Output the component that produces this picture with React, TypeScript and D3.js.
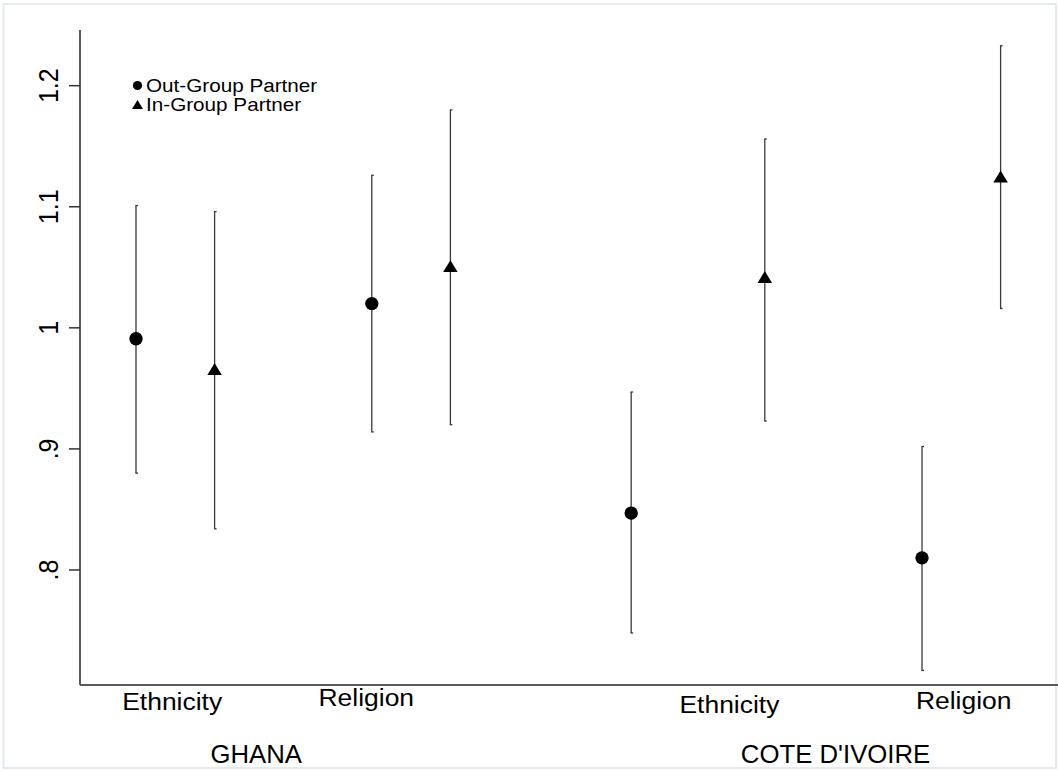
import React, { useRef, useEffect } from 'react';
import * as d3 from 'd3';

// groups along the x axis (data units)
const categories = ['Ethnicity', 'Religion', 'Ethnicity', 'Religion'];
const categoryLabelX = [1.46, 3.93, 8.55, 11.53];
const categoryLabelDy = [0, -4, 3, -1];
const countries = ['GHANA', "COTE D'IVOIRE"];
const countryLabelX = [2.53, 9.9];

// out-group partner
const outX = [1, 4, 7.3, 11];
const outEst = [0.991, 1.02, 0.847, 0.81];
const outLow = [0.88, 0.914, 0.748, 0.717];
const outHigh = [1.101, 1.126, 0.947, 0.902];

// in-group partner
const inX = [2, 5, 9, 12];
const inEst = [0.966, 1.051, 1.042, 1.125];
const inLow = [0.834, 0.92, 0.923, 1.016];
const inHigh = [1.096, 1.18, 1.156, 1.233];

const yTicks = [0.8, 0.9, 1, 1.1, 1.2];
const yTickLabels = ['.8', '.9', '1', '1.1', '1.2'];
const legendLabels = ['Out-Group Partner', 'In-Group Partner'];

const W = 1058;
const H = 771;
const FONT = 'Arial, "Liberation Sans", Helvetica, sans-serif';

const App: React.FC = () => {
    const svgRef = useRef<SVGSVGElement>(null);

    useEffect(() => {
        if (!svgRef.current) return;
        const svg = d3.select(svgRef.current);
        svg.selectAll('*').remove();

        const x = d3.scaleLinear().domain([0, 13]).range([57.4, 1079.2]);
        const y = d3.scaleLinear().domain([0.705, 1.246]).range([685, 30]);
        const axisLeft = 80;
        const axisBottom = 685;

        svg.append('rect')
            .attr('x', 0).attr('y', 0).attr('width', W).attr('height', H)
            .attr('fill', '#ffffff');

        // faint outer frame
        svg.append('rect')
            .attr('x', 3.5).attr('y', 4).attr('width', 1052.5).attr('height', 764)
            .attr('fill', 'none')
            .attr('stroke', '#e4ebef')
            .attr('stroke-width', 2);

        // y axis
        svg.append('line')
            .attr('x1', axisLeft).attr('x2', axisLeft)
            .attr('y1', y(1.246)).attr('y2', axisBottom)
            .attr('stroke', '#5a5a5a').attr('stroke-width', 2);

        // x axis
        svg.append('line')
            .attr('x1', axisLeft).attr('x2', W)
            .attr('y1', axisBottom).attr('y2', axisBottom)
            .attr('stroke', '#5a5a5a').attr('stroke-width', 2);

        // ticks + rotated labels
        const tg = svg.append('g');
        yTicks.forEach((t, i) => {
            tg.append('line')
                .attr('x1', axisLeft - 11).attr('x2', axisLeft)
                .attr('y1', y(t)).attr('y2', y(t))
                .attr('stroke', '#333').attr('stroke-width', 1.5);
            tg.append('text')
                .attr('transform', `translate(58, ${y(t)}) scale(1.12, 1) rotate(-90)`)
                .attr('text-anchor', 'middle')
                .attr('font-family', FONT)
                .attr('font-size', 25)
                .attr('fill', '#000')
                .text(yTickLabels[i]);
        });

        // error bars
        const drawBars = (xs: number[], lo: number[], hi: number[]) => {
            xs.forEach((v, i) => {
                const cx = x(v);
                svg.append('line')
                    .attr('x1', cx).attr('x2', cx)
                    .attr('y1', y(hi[i])).attr('y2', y(lo[i]))
                    .attr('stroke', '#3a3a3a').attr('stroke-width', 1.3);
                [hi[i], lo[i]].forEach(e => {
                    svg.append('line')
                        .attr('x1', cx - 0.6).attr('x2', cx + 2)
                        .attr('y1', y(e)).attr('y2', y(e))
                        .attr('stroke', '#3a3a3a').attr('stroke-width', 1.3);
                });
            });
        };
        drawBars(outX, outLow, outHigh);
        drawBars(inX, inLow, inHigh);

        const tri = (cx: number, cy: number, s: number) =>
            `M${cx},${cy - s * 0.9} L${cx + s * 1.1},${cy + s * 0.9} L${cx - s * 1.1},${cy + s * 0.9} Z`;

        outX.forEach((v, i) => {
            svg.append('circle')
                .attr('cx', x(v)).attr('cy', y(outEst[i]))
                .attr('r', 6.7).attr('fill', '#000');
        });
        inX.forEach((v, i) => {
            svg.append('path')
                .attr('d', tri(x(v), y(inEst[i]), 6.6))
                .attr('fill', '#000');
        });

        // legend
        const lg = svg.append('g');
        const legendY = [85.5, 104];
        lg.append('circle').attr('cx', 137.5).attr('cy', legendY[0]).attr('r', 4.6).attr('fill', '#000');
        lg.append('path').attr('d', tri(137.5, legendY[1] + 0.5, 5)).attr('fill', '#000');
        legendLabels.forEach((l, i) => {
            lg.append('text')
                .attr('transform', `translate(146, ${legendY[i] + 6.5}) scale(1.15, 1)`)
                .attr('font-family', FONT)
                .attr('font-size', 18)
                .attr('fill', '#000')
                .text(l);
        });

        // category labels
        categories.forEach((c, i) => {
            svg.append('text')
                .attr('transform', `translate(${x(categoryLabelX[i])}, ${710 + categoryLabelDy[i]}) scale(1.08, 1)`)
                .attr('text-anchor', 'middle')
                .attr('font-family', FONT)
                .attr('font-size', 24.5)
                .attr('fill', '#000')
                .text(c);
        });

        countries.forEach((c, i) => {
            svg.append('text')
                .attr('transform', `translate(${x(countryLabelX[i])}, 763) scale(1.03, 1)`)
                .attr('text-anchor', 'middle')
                .attr('font-family', FONT)
                .attr('font-size', 25)
                .attr('fill', '#000')
                .text(c);
        });
    }, []);

    return (
        <svg
            ref={svgRef}
            width={W}
            height={H}
            style={{ position: 'absolute', left: 0, top: 0, display: 'block' }}
        />
    );
};

export default App;
